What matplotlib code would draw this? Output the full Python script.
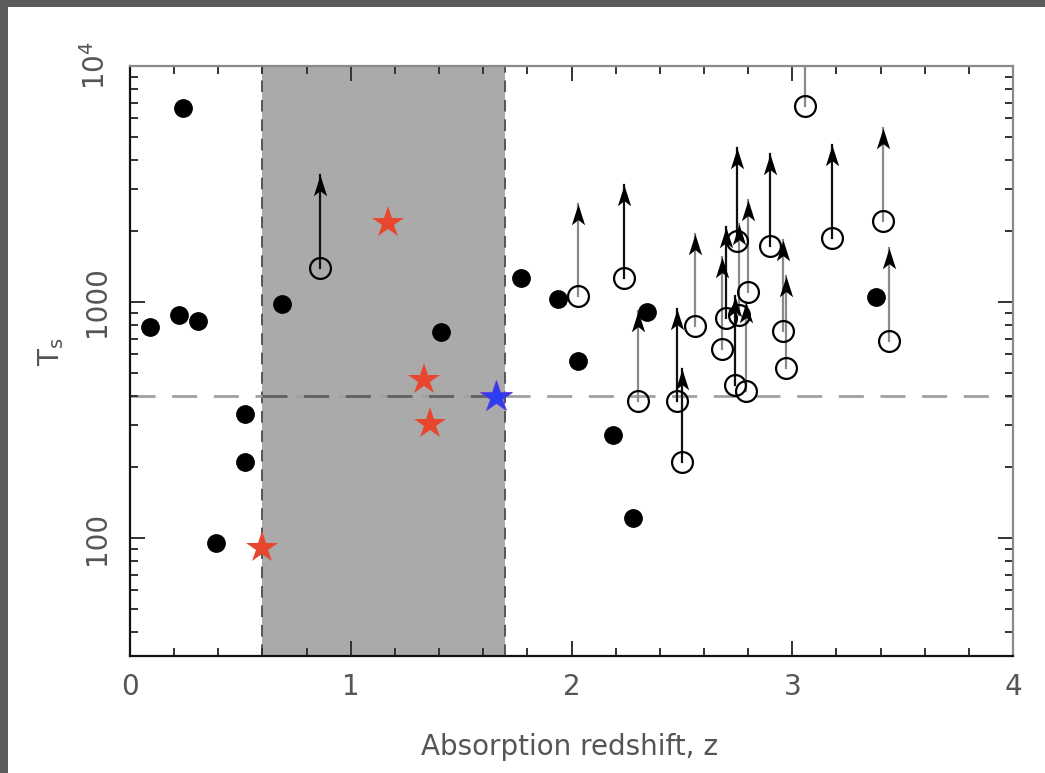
import matplotlib
matplotlib.use("Agg")
import matplotlib.pyplot as plt
import numpy as np
from matplotlib.patches import Rectangle
from matplotlib.path import Path
from matplotlib.ticker import FixedLocator, LogLocator, MultipleLocator, NullFormatter

# filled circles: detections
filled_z = [0.09, 0.22, 0.31, 0.24, 0.52, 0.52, 0.39, 0.69, 1.41, 1.77,
            1.94, 2.03, 2.19, 2.28, 2.34, 3.38]
filled_T = [783, 882, 830, 6620, 334, 210, 95, 980, 745, 1265,
            1030, 561, 272, 122, 906, 1050]

# red stars
red_z = [0.60, 1.17, 1.33, 1.36]
red_T = [91, 2170, 466, 305]

# blue star
blue_z = [1.66]
blue_T = [394]

# open circles: lower limits (arrow tips)
open_z = [0.86, 2.03, 2.24, 2.30, 2.48, 2.50, 2.56, 2.68, 2.70, 2.74, 2.75,
          2.76, 2.79, 2.80, 2.90, 2.96, 2.97, 3.06, 3.18, 3.41, 3.44]
open_T = [1396, 1064, 1262, 380, 380, 210, 792, 631, 853, 443, 1807,
          881, 420, 1099, 1726, 750, 524, 6777, 1867, 2198, 684]
open_tip = [3436, 2612, 3139, 918, 933, 519, 1945, 1550, 2080, 1064, 4477,
            2148, 997, 2698, 4227, 1824, 1294, 16600, 4624, 5447, 1691]
open_dark = [1, 0, 1, 0, 1, 1, 0, 0, 1, 1, 1,
             0, 0, 0, 1, 0, 0, 0, 1, 0, 0]

# shaded redshift band and reference temperature
band_lo, band_hi = 0.6, 1.7
T_ref = 400

fig = plt.figure(figsize=(10.45, 7.73), dpi=100)
fig.patch.set_facecolor("#5c5c5c")
fig.add_artist(Rectangle((8 / 1045, 0), 1, 1 - 7 / 773, transform=fig.transFigure,
                         facecolor="white", edgecolor="none", zorder=-10))

ax = fig.add_axes([130 / 1045, 1 - 656 / 773, 883 / 1045, 590 / 773])
ax.set_yscale("log")
ax.set_xlim(0, 4)
ax.set_ylim(10 ** 1.5, 1e4)

ax.axvspan(band_lo, band_hi, color="#aaaaaa", zorder=0, lw=0)
for zb in (band_lo, band_hi):
    ax.axvline(zb, color="#555555", lw=1.4, dashes=(6, 4), zorder=1)
ax.axhline(T_ref, color="#a0a0a0", lw=2, dashes=(9, 6), zorder=1)
ax.hlines(T_ref, band_lo, band_hi, color="#606060", lw=2, linestyles=(0, (9, 6)), zorder=1)

# arrows for lower limits
head = Path([(0, 0), (-0.32, -1), (0, -0.75), (0.32, -1), (0, 0)],
            [Path.MOVETO, Path.LINETO, Path.LINETO, Path.LINETO, Path.CLOSEPOLY])
for z, t, tip, dark in zip(open_z, open_T, open_tip, open_dark):
    ax.plot([z, z], [t, tip], color="#111111" if dark else "#8a8a8a", lw=1.6, zorder=2)
ax.plot(open_z, open_tip, ls="none", marker=head, ms=30, color="black", mew=0, zorder=3)
ax.plot(open_z, open_T, ls="none", marker="o", ms=15, mfc="none", mec="black", mew=1.6, zorder=4)

ax.plot(filled_z, filled_T, ls="none", marker="o", ms=12.5, color="black", zorder=4)
ax.plot(red_z, red_T, ls="none", marker="*", ms=24, color="#e8472f", mew=0, zorder=5)
ax.plot(blue_z, blue_T, ls="none", marker="*", ms=24, color="#2b3cf2",
        mec="#6a3ad0", mew=0.6, zorder=5)

# ticks
ax.xaxis.set_major_locator(MultipleLocator(1))
ax.xaxis.set_minor_locator(MultipleLocator(0.2))
ax.yaxis.set_major_locator(FixedLocator([100, 1000, 10000]))
ax.yaxis.set_minor_locator(LogLocator(base=10, subs=np.arange(2, 10)))
ax.yaxis.set_minor_formatter(NullFormatter())
ax.set_yticklabels(["100", "1000", r"10$^{4}$"], rotation=90, va="center")

ax.tick_params(which="both", direction="in", top=True, right=True, color="#333333")
ax.tick_params(which="major", length=11, width=1.4, labelsize=20, labelcolor="#555555")
ax.tick_params(which="minor", length=6, width=1.4)
ax.tick_params(axis="x", which="major", pad=12)
ax.tick_params(axis="y", which="major", pad=14)

for side in ("left", "bottom"):
    ax.spines[side].set_color("#111111")
    ax.spines[side].set_linewidth(1.6)
for side in ("top", "right"):
    ax.spines[side].set_color("#8a8a8a")
    ax.spines[side].set_linewidth(1.6)

ax.set_xlabel("Absorption redshift, z", fontsize=20, color="#555555")
ax.xaxis.set_label_coords(0.498, -0.13)
ax.set_ylabel(r"T$_{\rm s}$", fontsize=20, color="#555555")
ax.yaxis.set_label_coords(-0.072, 0.515)

fig.savefig("out.png", dpi=100, facecolor=fig.get_facecolor())
